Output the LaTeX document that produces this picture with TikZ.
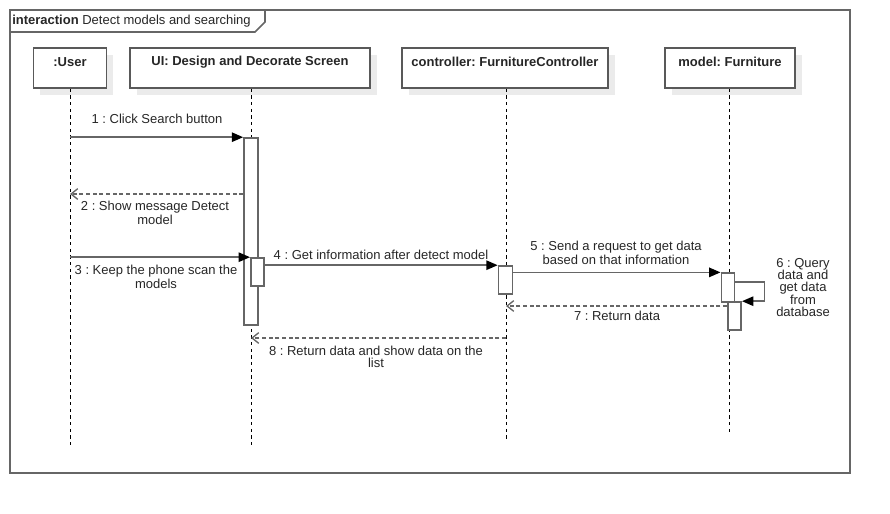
\documentclass[tikz,border=0pt]{standalone}
\usepackage{fontspec}
\setmainfont{Liberation Sans}
\usetikzlibrary{arrows.meta,shadows}
\frenchspacing
\begin{document}
\begin{tikzpicture}[x=0.75pt,y=-0.75pt,
  every node/.style={font=\fontsize{9.75}{9}\selectfont, text=black!85},
  frameline/.style={draw=black!60, line width=1.2pt},
  head/.style={draw=black!65, line width=1.2pt, fill=white, minimum height=30pt, inner sep=0pt,
    drop shadow={shadow xshift=5pt, shadow yshift=-5pt, fill=black!8, opacity=1}},
  headtxt/.style={font=\bfseries\fontsize{9.75}{9}\selectfont, inner sep=0pt},
  lifeline/.style={draw=black, line width=0.6pt, dash pattern=on 2.5pt off 2.5pt},
  act/.style={draw=black!60, line width=1.2pt, fill=white, inner sep=0pt},
  call/.style={draw=black!60, line width=1.2pt, -{Triangle[length=8.5pt,width=7pt,color=black]}},
  reply/.style={draw=black!60, line width=1pt, dash pattern=on 3pt off 2pt,
    -{Straight Barb[length=5pt,width=8pt]}},
  msg/.style={align=center, inner sep=0pt}]
\useasboundingbox (0,0) rectangle (890,514);
% frame
\draw[frameline] (10,10) rectangle (850,473);
\draw[frameline] (10,32) -- (255,32) -- (265,22) -- (265,10);
\node[anchor=west, inner sep=0pt] (title) at (12,21) {\textbf{interaction} Detect models and searching};
% heads
\node[head, minimum width=54.75pt] (user) at (70,68) {};
\node[headtxt] (userlbl) at (70,62) {:User};
\node[head, minimum width=180pt] (ui) at (250,68) {};
\node[headtxt] (uilbl) at (250,62) {UI: Design and Decorate Screen};
\node[head, minimum width=154.5pt] (ctrl) at (505,68) {};
\node[headtxt] (ctrllbl) at (505,62) {controller: FurnitureController};
\node[head, minimum width=97.5pt] (model) at (730,68) {};
\node[headtxt] (modellbl) at (730,62) {model: Furniture};
% lifelines
\coordinate (userend) at (70,447);
\coordinate (uiend) at (251,447);
\coordinate (ctrlend) at (506,440);
\coordinate (modelend) at (729,435);
\draw[lifeline] (user.south -| userend) -- (userend);
\draw[lifeline] (ui.south -| uiend) -- (uiend);
\draw[lifeline] (ctrl.south -| ctrlend) -- (ctrlend);
\draw[lifeline] (model.south -| modelend) -- (modelend);
% activations
\node[act, minimum width=10.5pt, minimum height=140.25pt] (uiA) at (251,231.5) {};
\node[act, minimum width=10pt, minimum height=21pt] (uiB) at (257.5,272) {};
\node[act, minimum width=10.5pt, minimum height=21pt] (ctA) at (505.5,280) {};
\node[act, minimum width=10pt, minimum height=21.5pt] (mA) at (728,287.5) {};
\node[act, minimum width=10pt, minimum height=21pt] (mB) at (734.5,316) {};
% y levels
\coordinate (y2) at (0,194);
\coordinate (y6) at (0,282);
\coordinate (y7) at (0,306);
\coordinate (y8) at (0,338);
% messages
\draw[call] (userend |- uiA.north) -- (uiA.north west);
\node[msg] (l1) at (157,119) {1 : Click Search button};
\draw[reply] (uiA.west |- y2) -- (userend |- y2);
\node[msg] (l2) at (155,212.7) {2 : Show message Detect\\model};
\draw[call] (userend |- uiB.north) -- (uiB.north west);
\node[msg] (l3) at (156,276.7) {3 : Keep the phone scan the\\models};
\draw[call] (uiB.east |- ctA.north west) -- (ctA.north west);
\node[msg] (l4) at (381,255) {4 : Get information after detect model};
\draw[call] (ctA.east |- mA.north) -- (mA.north west);
\node[msg] (l5) at (616,253) {5 : Send a request to get data\\based on that information};
\draw[call] (mA.east |- y6) -- ++(29,0) |- (mB.north east);
\node[msg, font=\fontsize{9.75}{9.25}\selectfont] (l6) at (803,287.5) {6 : Query\\data and\\get data\\from\\database};
\draw[reply] (mB.west |- y7) -- (ctrlend |- y7);
\node[msg] (l7) at (617,316) {7 : Return data};
\draw[reply] (ctrlend |- y8) -- (uiend |- y8);
\node[msg] (l8) at (376,357) {8 : Return data and show data on the\\list};
\end{tikzpicture}
\end{document}
